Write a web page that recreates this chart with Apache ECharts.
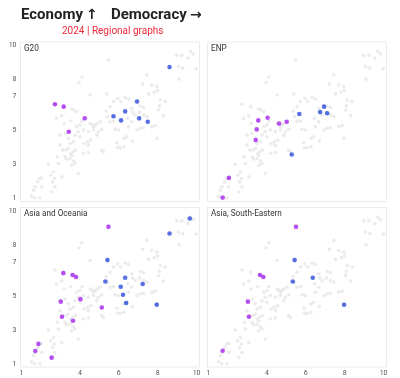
<!DOCTYPE html>
<html><head><meta charset="utf-8">
<script src="https://cdn.jsdelivr.net/npm/echarts@6/dist/echarts.min.js"></script>
<style>html,body{margin:0;padding:0;background:#fff}#c{width:400px;height:378px}</style>
</head><body><div id="c"></div>
<script>
const titleWords = ['Economy', 'Democracy'];
const titleArrows = ['↑', '→'];
const subtitleText = '2024 | Regional graphs';
const panelNames = ['G20', 'ENP', 'Asia and Oceania', 'Asia, South-Eastern'];
const xTicks = [1, 4, 6, 8, 10];
const yTicks = [1, 3, 5, 7, 8, 10];

// all countries (grey background)  [democracy, economy]
const allCountries = [
 [5.47,9.17],[4.10,8.15],[3.96,7.83],[4.53,7.10],[5.38,7.16],[7.44,8.28],[8.98,9.43],[9.24,9.43],
 [9.70,9.66],[9.84,9.51],[9.55,9.27],[9.07,8.78],[9.29,8.68],[9.99,8.64],[9.10,8.03],[7.22,7.75],
 [7.70,7.69],[7.96,7.59],[7.99,7.36],[7.53,7.16],[7.82,7.26],[8.13,6.80],[8.38,6.71],[5.95,6.90],
 [6.33,6.94],[6.50,6.86],[5.55,6.41],[5.73,6.71],[6.10,6.71],[5.35,6.15],[5.42,5.82],[5.55,5.52],
 [5.73,5.56],[6.67,6.31],[7.10,6.45],[7.27,6.37],[6.72,6.07],[6.84,5.92],[7.06,6.07],[7.27,5.92],
 [7.44,5.82],[6.46,5.72],[6.67,5.52],[8.04,6.21],[8.09,6.47],[6.50,5.23],[6.93,5.03],[7.10,5.13],
 [7.27,5.17],[7.70,5.23],[7.87,5.29],[6.41,4.64],[6.27,4.54],[5.90,4.28],[5.93,4.00],[6.07,3.98],
 [6.27,4.04],[6.70,4.38],[7.96,4.54],[8.30,5.88],[5.81,5.07],[5.98,5.03],[5.12,5.07],[2.81,5.72],
 [3.07,5.88],[3.19,5.42],[3.58,6.27],[3.70,6.21],[3.84,6.11],[3.53,5.56],[3.84,5.23],[4.01,5.33],
 [4.18,5.03],[2.98,4.73],[3.24,4.83],[3.41,4.54],[3.50,4.24],[3.67,4.34],[3.75,4.73],[3.92,4.93],
 [4.01,4.64],[4.53,5.42],[4.61,5.36],[4.70,5.23],[4.78,5.33],[4.87,5.42],[4.44,4.93],[4.70,5.03],
 [4.87,4.73],[4.95,4.93],[5.04,5.52],[4.22,4.24],[4.39,4.34],[4.56,4.44],[2.98,4.14],[3.12,3.85],
 [3.29,3.85],[3.41,3.94],[3.53,3.65],[3.63,3.75],[3.77,3.85],[3.24,3.45],[3.32,3.31],[3.50,3.35],
 [3.58,3.55],[3.67,3.20],[3.75,3.06],[3.58,2.96],[4.18,3.65],[4.44,3.71],[5.12,3.85],[5.21,3.75],
 [2.84,3.45],[2.90,3.06],[2.38,3.00],[2.50,2.37],[2.64,2.56],[2.69,2.17],[2.04,2.21],[1.92,2.17],
 [1.83,1.97],[1.69,1.68],[1.61,1.48],[2.04,1.68],[2.60,1.97],[2.72,1.68],[3.07,2.27],[2.55,1.38],
 [1.52,1.12],[1.69,1.03],[1.95,1.03],[3.92,2.47],[4.44,4.14],[4.10,5.56],[2.72,6.55],[3.17,6.41]
];

const g20Purple = [[2.72,6.55],[3.17,6.41],[4.25,5.72],[3.43,4.93]];
const g20Blue = [[8.61,8.74],[6.94,6.71],[6.33,6.13],[5.73,5.84],[6.12,5.60],[7.05,5.72],[7.49,5.52]];
const enpPurple = [[1.73,1.05],[2.05,2.21],[3.43,4.44],[3.48,5.07],[3.56,5.60],[4.04,5.76],[4.63,5.42],[5.02,5.52]];
const enpBlue = [[5.67,5.98],[6.74,6.09],[6.94,6.41],[7.10,6.02],[5.28,3.59]];
const asiaOcPurple = [[5.47,9.08],[3.15,6.35],[3.63,6.24],[3.80,6.12],[3.02,4.67],[4.03,4.82],[3.08,3.78],[5.13,4.33],[3.65,3.55],[1.87,2.18],[1.71,1.76],[2.55,1.37]];
const asiaOcBlue = [[9.65,9.57],[8.61,8.69],[5.42,7.12],[5.31,5.86],[6.33,6.08],[6.10,5.55],[6.22,5.08],[6.38,4.59],[7.23,5.71],[7.95,4.49]];
const seaPurple = [[5.50,9.08],[3.65,6.24],[3.82,6.12],[3.03,4.67],[3.08,3.78],[1.73,1.78]];
const seaBlue = [[5.43,7.12],[5.33,5.86],[6.36,6.08],[7.97,4.49]];

const purpleSets = [g20Purple, enpPurple, asiaOcPurple, seaPurple];
const blueSets = [g20Blue, enpBlue, asiaOcBlue, seaBlue];

const FONT = "Roboto, 'Liberation Sans', sans-serif";
const ARROW_FONT = "'DejaVu Sans', sans-serif";
const PURPLE = '#a626ef', BLUE = '#2d4cdc', GREY = '#e6e6e6';
const lefts = [20.5, 207.5, 20.5, 207.5];
const tops = [42, 42, 207.5, 207.5];
const W = 179, H = 159.5;

const grids = [], xAxes = [], yAxes = [], series = [], titles = [];
const wordLefts = [21, 111];
const arrowLefts = [86, 190];
titleWords.forEach((t, k) => titles.push({text: t, left: wordLefts[k], top: 8, padding: 0,
  textStyle: {fontSize: 15, fontWeight: 'bold', color: '#222', fontFamily: FONT}}));
titleArrows.forEach((t, k) => titles.push({text: t, left: arrowLefts[k], top: 8, padding: 0,
  textStyle: {fontSize: 14, fontWeight: 'bold', color: '#222', fontFamily: ARROW_FONT}}));
titles.push({text: subtitleText, left: 62, top: 26, padding: 0,
  textStyle: {fontSize: 10, fontWeight: 'normal', color: '#f0283c', fontFamily: FONT}});

for (let i = 0; i < 4; i++) {
  grids.push({left: lefts[i], top: tops[i], width: W, height: H, show: true,
    borderColor: '#ebebeb', borderWidth: 1, backgroundColor: 'transparent', containLabel: false});
  xAxes.push({type: 'value', gridIndex: i, min: 0.95, max: 10.15,
    axisLine: {show: false}, axisTick: {show: false}, splitLine: {show: false},
    axisLabel: {show: i >= 2, customValues: xTicks, color: '#555', fontSize: 7, margin: 3, fontFamily: FONT}});
  yAxes.push({type: 'value', gridIndex: i, min: 0.82, max: 10.22,
    axisLine: {show: false}, axisTick: {show: false}, splitLine: {show: false},
    axisLabel: {show: i % 2 === 0, customValues: yTicks, color: '#555', fontSize: 7, margin: 4, fontFamily: FONT}});
  titles.push({text: panelNames[i], left: lefts[i] + 3.5, top: tops[i] + 2.5, padding: 0,
    textStyle: {fontSize: 8.2, fontWeight: 'normal', color: '#333', fontFamily: FONT}});
  series.push({type: 'scatter', xAxisIndex: i, yAxisIndex: i, data: allCountries, symbolSize: 3.6,
    itemStyle: {color: GREY}, silent: true, z: 1});
  series.push({type: 'scatter', xAxisIndex: i, yAxisIndex: i, data: purpleSets[i], symbolSize: 4.6,
    itemStyle: {color: PURPLE}, silent: true, z: 3});
  series.push({type: 'scatter', xAxisIndex: i, yAxisIndex: i, data: blueSets[i], symbolSize: 4.6,
    itemStyle: {color: BLUE}, silent: true, z: 3});
}

const chart = echarts.init(document.getElementById('c'), null, {renderer: 'canvas'});
chart.setOption({animation: false, backgroundColor: '#fff', title: titles, grid: grids,
  xAxis: xAxes, yAxis: yAxes, series: series});
</script></body></html>
